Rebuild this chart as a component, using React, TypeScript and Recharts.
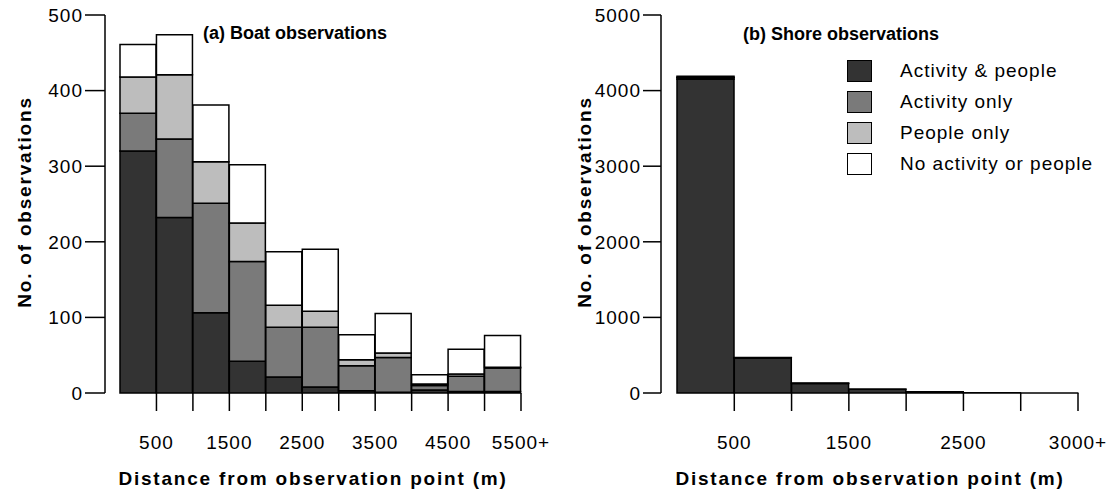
import { BarChart, Bar, XAxis, YAxis, Legend } from 'recharts';

// (a) boat observations, 500 m bins (bin centres)
const boatBins = [250, 750, 1250, 1750, 2250, 2750, 3250, 3750, 4250, 4750, 5250];
const boatBoth = [320, 232, 106, 42, 21, 8, 3, 1, 4, 2, 2];
const boatActivity = [50, 104, 145, 132, 66, 79, 33, 46, 6, 20, 31];
const boatPeople = [48, 85, 55, 51, 29, 21, 8, 6, 2, 3, 1];
const boatNone = [43, 53, 75, 77, 71, 82, 33, 52, 12, 33, 42];
const boatTicks = [500, 1000, 1500, 2000, 2500, 3000, 3500, 4000, 4500, 5000, 5500];
const boatTickLabels = ['500', '', '1500', '', '2500', '', '3500', '', '4500', '', '5500+'];
const boatYTicks = [0, 100, 200, 300, 400, 500];

// (b) shore observations
const shoreBins = [250, 750, 1250, 1750, 2250, 2750, 3250];
const shoreBoth = [4150, 462, 126, 48, 16, 3, 1];
const shoreActivity = [20, 3, 2, 1, 1, 0, 0];
const shorePeople = [8, 2, 0, 0, 0, 0, 0];
const shoreNone = [12, 2, 1, 0, 0, 0, 0];
const shoreTicks = [500, 1000, 1500, 2000, 2500, 3000, 3500];
const shoreTickLabels = ['500', '', '1500', '', '2500', '', '3000+'];
const shoreYTicks = [0, 1000, 2000, 3000, 4000, 5000];

const seriesKeys = ['both', 'activity', 'people', 'none'];
const seriesNames = ['Activity & people', 'Activity only', 'People only', 'No activity or people'];
const seriesColors = ['#333333', '#7a7a7a', '#bdbdbd', '#ffffff'];

const boatData = boatBins.map((d, i) => ({
  dist: d,
  both: boatBoth[i],
  activity: boatActivity[i],
  people: boatPeople[i],
  none: boatNone[i],
}));

const shoreData = shoreBins.map((d, i) => ({
  dist: d,
  both: shoreBoth[i],
  activity: shoreActivity[i],
  people: shorePeople[i],
  none: shoreNone[i],
}));

const FONT = '"Liberation Sans", Arial, sans-serif';
const tickStyle = { fill: '#000', fontSize: 19, fontFamily: FONT, letterSpacing: 1 };
const titleStyle = { fontSize: 18, fontWeight: 700, fontFamily: FONT, fill: '#000' };
const axisTitleStyle = { fontSize: 19, fontWeight: 700, fontFamily: FONT, fill: '#000', letterSpacing: 1.8 };

function LegendBox() {
  return (
    <div style={{ fontFamily: FONT, fontSize: 19, letterSpacing: 1, color: '#000' }}>
      {seriesNames.map((name, i) => (
        <div key={name} style={{ display: 'flex', alignItems: 'center', height: 31 }}>
          <div
            style={{
              width: 23,
              height: 20,
              background: seriesColors[i],
              border: '1.5px solid #000',
              marginRight: 28,
            }}
          />
          <span>{name}</span>
        </div>
      ))}
    </div>
  );
}

function renderBars() {
  return seriesKeys.map((k, i) => (
    <Bar
      key={k}
      dataKey={k}
      name={seriesNames[i]}
      stackId="s"
      fill={seriesColors[i]}
      stroke="#000"
      strokeWidth={1.5}
      isAnimationActive={false}
    />
  ));
}

export default function App() {
  return (
    <div style={{ position: 'absolute', left: 0, top: 0, width: 1113, height: 493, display: 'flex', background: '#fff' }}>
      <BarChart
        width={560}
        height={493}
        data={boatData}
        margin={{ top: 15, right: 39, bottom: 10, left: 10 }}
        barCategoryGap={0}
        barGap={0}
      >
        <XAxis
          dataKey="dist"
          type="number"
          domain={[0, 5500]}
          ticks={boatTicks}
          tickFormatter={(v: number) => boatTickLabels[boatTicks.indexOf(v)] ?? ''}
          interval={0}
          padding={{ left: 15, right: 0 }}
          axisLine={false}
          tickLine={{ stroke: '#000', strokeWidth: 1.5 }}
          tickSize={18}
          tickMargin={25}
          height={90}
          tick={tickStyle}
        />
        <YAxis
          domain={[0, 500]}
          ticks={boatYTicks}
          width={95}
          axisLine={{ stroke: '#000', strokeWidth: 1.5 }}
          tickLine={{ stroke: '#000', strokeWidth: 1.5 }}
          tickSize={20}
          tick={tickStyle}
        />
        {renderBars()}
        <text x={295} y={39} textAnchor="middle" style={titleStyle}>(a) Boat observations</text>
        <text x={313} y={485} textAnchor="middle" style={axisTitleStyle}>
          Distance from observation point (m)
        </text>
        <text x={31} y={202} textAnchor="middle" transform="rotate(-90 31 202)" style={axisTitleStyle}>
          No. of observations
        </text>
      </BarChart>
      <BarChart
        width={553}
        height={493}
        data={shoreData}
        margin={{ top: 15, right: 35, bottom: 10, left: 10 }}
        barCategoryGap={0}
        barGap={0}
      >
        <XAxis
          dataKey="dist"
          type="number"
          domain={[0, 3500]}
          ticks={shoreTicks}
          tickFormatter={(v: number) => shoreTickLabels[shoreTicks.indexOf(v)] ?? ''}
          interval={0}
          padding={{ left: 16, right: 0 }}
          axisLine={false}
          tickLine={{ stroke: '#000', strokeWidth: 1.5 }}
          tickSize={18}
          tickMargin={25}
          height={90}
          tick={tickStyle}
        />
        <YAxis
          domain={[0, 5000]}
          ticks={shoreYTicks}
          width={91}
          axisLine={{ stroke: '#000', strokeWidth: 1.5 }}
          tickLine={{ stroke: '#000', strokeWidth: 1.5 }}
          tickSize={18}
          tick={tickStyle}
        />
        {renderBars()}
        <Legend
          layout="vertical"
          align="center"
          verticalAlign="middle"
          content={() => <LegendBox />}
          wrapperStyle={{ left: 287, top: 55, width: 262 }}
        />
        <text x={281} y={40} textAnchor="middle" style={titleStyle}>(b) Shore observations</text>
        <text x={310} y={485} textAnchor="middle" style={axisTitleStyle}>
          Distance from observation point (m)
        </text>
        <text x={31} y={202} textAnchor="middle" transform="rotate(-90 31 202)" style={axisTitleStyle}>
          No. of observations
        </text>
      </BarChart>
    </div>
  );
}
